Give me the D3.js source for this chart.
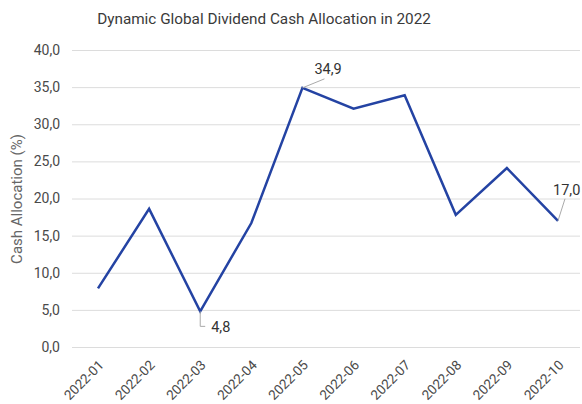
<!DOCTYPE html>
<html><head><meta charset="utf-8">
<script src="https://cdn.jsdelivr.net/npm/d3@7"></script>
<style>
body{margin:0;background:#fff;}
svg{display:block;font-family:Roboto,"Noto Sans",sans-serif;font-weight:400;}
</style></head>
<body><svg id="c" width="582" height="404"></svg>
<script>
const months = ["2022-01","2022-02","2022-03","2022-04","2022-05","2022-06","2022-07","2022-08","2022-09","2022-10"];
const cash = [7.9, 18.6, 4.8, 16.7, 34.9, 32.1, 33.9, 17.8, 24.1, 17.0];
const yTicks = [0,5,10,15,20,25,30,35,40];
const labeled = ["2022-03","2022-05","2022-10"];
const title = "Dynamic Global Dividend Cash Allocation in 2022";
const yTitle = "Cash Allocation (%)";

const svg = d3.select("#c");
const fmt = v => d3.format(".1f")(v).replace(".", ",");
const x = d3.scalePoint().domain(months).range([98, 558]);
const y = d3.scaleLinear().domain([0,40]).range([347, 50]);

svg.append("text").attr("x", 264).attr("y", 24).attr("text-anchor","middle")
  .attr("font-size", 15.3).attr("fill","#3a3a3a").text(title);

const ya = svg.append("g").attr("transform","translate(72,0)")
  .call(d3.axisLeft(y).tickValues(yTicks).tickFormat(fmt).tickSize(-508).tickPadding(12));
ya.select(".domain").remove();
ya.selectAll(".tick line").attr("stroke","#dcdcdc");
ya.selectAll(".tick text").attr("font-size",14).attr("fill","#4a4a4a").attr("font-family","Roboto,sans-serif");

svg.append("text").attr("transform","translate(22,199) rotate(-90)").attr("text-anchor","middle")
  .attr("font-size",15).attr("fill","#666").text(yTitle);

const xa = svg.append("g").attr("transform","translate(0,347)")
  .call(d3.axisBottom(x).tickSize(0).tickPadding(0));
xa.select(".domain").remove();
xa.selectAll(".tick text").attr("font-size",13.5).attr("fill","#4a4a4a").attr("font-family","Roboto,sans-serif")
  .attr("text-anchor","end").attr("dy",0)
  .attr("transform","translate(6,19) rotate(-45)");

const data = months.map((m,i)=>({m, v:cash[i]}));
svg.append("path").datum(data).attr("fill","none").attr("stroke","#2443a3").attr("stroke-width",2.5)
  .attr("stroke-linejoin","miter")
  .attr("d", d3.line().x(d=>x(d.m)).y(d=>y(d.v)));

const lab = svg.append("g");
data.filter(d=>labeled.includes(d.m)).forEach(d=>{
  const px = x(d.m), py = y(d.v);
  let pts, tx, ty;
  if (d.m==="2022-03"){ pts=[[px,py],[px,py+15],[px+5,py+15]]; tx=px+11; ty=py+21; }
  else if (d.m==="2022-05"){ pts=[[px,py],[px+22,py-9]]; tx=px+12; ty=py-14; }
  else { pts=[[px,py],[px+7,py-22]]; tx=px-5; ty=py-26; }
  lab.append("path").attr("d", d3.line()(pts)).attr("fill","none").attr("stroke","#aaa").attr("stroke-width",1);
  lab.append("text").attr("x",tx).attr("y",ty).attr("font-size",14.5).attr("fill","#333").text(fmt(d.v));
});
</script></body></html>
